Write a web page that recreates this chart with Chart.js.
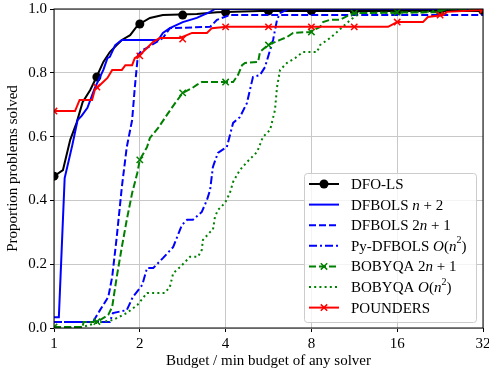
<!DOCTYPE html>
<html>
<head>
<meta charset="utf-8">
<script src="https://cdn.jsdelivr.net/npm/chart.js@4.4.0/dist/chart.umd.min.js"></script>
<style>
  html, body { margin: 0; padding: 0; background: #fff; }
  #wrap { width: 489px; height: 372px; position: relative; }
</style>
</head>
<body>
<div id="wrap"><canvas id="myChart"></canvas></div>
<script>
// budget ratio (x) vs proportion solved (y)
var dfoLs = [[1,.476],[1.075,.495],[1.14,.59],[1.2,.643],[1.26,.708],[1.34,.746],[1.41,.787],[1.49,.834],[1.57,.865],[1.66,.887],[1.73,.903],[1.85,.918],[1.97,.95],[2.17,.972],[2.41,.981],[3.17,.984],[3.73,.99],[5.28,.994],[32,.994]];
var dfbolsN2 = [[1,.034],[1.04,.034],[1.09,.47],[1.16,.574],[1.21,.652],[1.25,.665],[1.31,.69],[1.39,.752],[1.49,.809],[1.54,.846],[1.57,.85],[1.64,.887],[1.73,.903],[2.32,.903],[2.41,.925],[2.55,.94],[2.83,.959],[3.17,.972],[3.53,.991],[3.67,1],[32,1]];
var dfbols2N1 = [[1,.019],[1.37,.019],[1.45,.056],[1.55,.097],[1.6,.16],[1.66,.285],[1.73,.442],[1.8,.567],[1.88,.652],[1.92,.752],[1.97,.856],[2.04,.871],[2.12,.878],[2.41,.909],[2.55,.94],[3.53,.944],[3.73,.966],[4.14,.981],[32,.981]];
var pyDfbols = [[1,.019],[1.57,.019],[1.61,.047],[1.8,.056],[1.89,.097],[2.04,.135],[2.12,.188],[2.23,.188],[2.41,.219],[2.62,.254],[2.81,.323],[2.93,.339],[3.07,.339],[3.3,.364],[3.44,.401],[3.53,.433],[3.61,.505],[3.76,.549],[3.92,.56],[4.04,.567],[4.25,.643],[4.49,.661],[4.75,.705],[4.99,.787],[5.28,.793],[5.5,.818],[5.87,.903],[6.06,.966],[6.21,.987],[6.62,1],[32,1]];
var bobyqa2N1 = [[1,.003],[1.26,.003],[1.27,.019],[1.37,.019],[1.45,.025],[1.55,.041],[1.6,.066],[1.66,.16],[1.73,.254],[1.8,.339],[1.88,.423],[1.96,.486],[2,.527],[2.12,.567],[2.17,.596],[2.32,.627],[2.49,.668],[2.66,.705],[2.83,.737],[3.05,.752],[3.17,.762],[3.3,.771],[4.25,.771],[4.42,.793],[4.57,.824],[4.68,.831],[5.2,.834],[5.28,.865],[5.63,.887],[6.21,.903],[6.57,.912],[6.9,.925],[7.91,.928],[8.58,.944],[8.79,.959],[9.3,.966],[10.08,.966],[11.19,.987],[22,.99],[24,1],[32,1]];
var bobyqaN2 = [[1,0],[1.26,.003],[1.41,.016],[1.61,.025],[1.8,.047],[1.96,.072],[2.12,.11],[2.45,.11],[2.55,.129],[2.62,.172],[2.77,.191],[3.0,.223],[3.2,.223],[3.3,.245],[3.33,.276],[3.53,.301],[3.61,.307],[3.67,.348],[3.76,.37],[3.98,.392],[4.14,.423],[4.25,.458],[4.39,.48],[4.49,.495],[4.75,.52],[5.16,.552],[5.41,.599],[5.73,.621],[5.96,.683],[6.06,.755],[6.21,.809],[6.57,.831],[7.01,.846],[7.47,.865],[8.37,.865],[8.58,.887],[9.3,.909],[9.84,.928],[10.66,.956],[11.19,.972],[11.56,.987],[20,.99],[24,1],[32,1]];
var pounders = [[1,.68],[1.185,.68],[1.23,.715],[1.36,.715],[1.39,.746],[1.45,.762],[1.54,.784],[1.6,.809],[1.73,.809],[1.78,.824],[1.88,.824],[1.92,.846],[2,.856],[2.12,.878],[2.23,.897],[2.35,.909],[2.77,.909],[3.05,.925],[3.44,.925],[3.58,.94],[4.04,.944],[14.86,.944],[16,.959],[19.7,.959],[20.5,.975],[23.2,.981],[23.9,.991],[31.7,.997],[32,1]];

// markers every half doubling
var markX = [1, 1.414, 2, 2.828, 4, 5.657, 8, 11.31, 16, 22.63, 32];
var dfoLsMarks = [.476, .787, .953, .981, .99, .994, .994, .994, .994, .994, .994];
var bobyqa2N1Marks = [.003, .02, .527, .737, .771, .887, .928, .987, .99, .995, 1];
var poundersMarks = [.68, .755, .853, .906, .944, .944, .944, .944, .959, .981, .997];

var xTicks = [1, 2, 4, 8, 16, 32];

var FONT = 'Liberation Serif';
Chart.defaults.font.family = FONT;
Chart.defaults.font.size = 15;
Chart.defaults.color = '#000';

var pts = function (a) { return a.map(function (p) { return {x: p[0], y: p[1]}; }); };
var markPts = function (ys) { return markX.map(function (x, i) { return {x: x, y: ys[i]}; }); };

function line(data, color, dash) {
  return {
    data: pts(data), borderColor: color, backgroundColor: color, borderWidth: 2,
    borderDash: dash, pointRadius: 0, tension: 0, fill: false, clip: 0
  };
}
function marks(data, color, style, r) {
  return {
    data: markPts(data), showLine: false, pointStyle: style, pointRadius: r,
    pointBorderWidth: style == 'circle' ? 0 : 1.5,
    pointBackgroundColor: color, pointBorderColor: color, clip: 0
  };
}

// matplotlib plotting order, last one on top
var datasets = [
  line(dfoLs, '#000000', []),
  marks(dfoLsMarks, '#000000', 'circle', 4.5),
  line(dfbolsN2, '#0000ff', []),
  line(dfbols2N1, '#0000ff', [7, 3]),
  line(pyDfbols, '#0000ff', [8, 3, 2, 3]),
  line(bobyqa2N1, '#008000', [7, 3]),
  marks(bobyqa2N1Marks, '#008000', 'crossRot', 4.5),
  line(bobyqaN2, '#008000', [2, 3.2]),
  line(pounders, '#ff0000', []),
  marks(poundersMarks, '#ff0000', 'crossRot', 4.5)
];
datasets.forEach(function (d, i) { d.order = datasets.length - i; });

var legendItems = [
  {parts: [['DFO-LS']], color: '#000000', dash: [], mark: 'circle'},
  {parts: [['DFBOLS '], ['n', 'i'], [' + 2']], color: '#0000ff', dash: []},
  {parts: [['DFBOLS 2'], ['n', 'i'], [' + 1']], color: '#0000ff', dash: [7, 3]},
  {parts: [['Py-DFBOLS '], ['O', 'i'], ['('], ['n', 'i'], ['2', 's'], [')']], color: '#0000ff', dash: [8, 3, 2, 3]},
  {parts: [['BOBYQA 2'], ['n', 'i'], [' + 1']], color: '#008000', dash: [7, 3], mark: 'x'},
  {parts: [['BOBYQA '], ['O', 'i'], ['('], ['n', 'i'], ['2', 's'], [')']], color: '#008000', dash: [2, 3.2]},
  {parts: [['POUNDERS']], color: '#ff0000', dash: [], mark: 'x'}
];

function drawRich(ctx, parts, x, y) {
  parts.forEach(function (p) {
    var st = p[1] || '';
    if (st == 's') {
      ctx.font = '10px "' + FONT + '"';
      ctx.fillText(p[0], x, y - 6);
    } else {
      ctx.font = (st == 'i' ? 'italic ' : '') + '15px "' + FONT + '"';
      ctx.fillText(p[0], x, y);
    }
    x += ctx.measureText(p[0]).width;
  });
}

var frameAndLegend = {
  id: 'frameAndLegend',
  afterDatasetsDraw: function (chart) {
    var ctx = chart.ctx, a = chart.chartArea;
    ctx.save();
    ctx.strokeStyle = '#000';
    ctx.lineWidth = 1;
    ctx.strokeRect(a.left, a.top, a.right - a.left, a.bottom - a.top);

    // legend box, lower right inside the axes
    var bx = 304, by = 173, bw = 172, bh = 149, r = 3;
    ctx.beginPath();
    ctx.roundRect(bx + 0.5, by + 0.5, bw, bh, r);
    ctx.fillStyle = 'rgba(255,255,255,0.8)';
    ctx.fill();
    ctx.strokeStyle = '#cccccc';
    ctx.stroke();

    legendItems.forEach(function (it, i) {
      var y = 184 + i * 20.6;
      ctx.strokeStyle = it.color;
      ctx.lineWidth = 2;
      ctx.setLineDash(it.dash);
      ctx.beginPath();
      ctx.moveTo(309, y);
      ctx.lineTo(339, y);
      ctx.stroke();
      ctx.setLineDash([]);
      if (it.mark == 'circle') {
        ctx.fillStyle = it.color;
        ctx.beginPath();
        ctx.arc(324, y, 4.5, 0, Math.PI * 2);
        ctx.fill();
      } else if (it.mark == 'x') {
        ctx.lineWidth = 1.5;
        ctx.beginPath();
        ctx.moveTo(320.8, y - 3.2); ctx.lineTo(327.2, y + 3.2);
        ctx.moveTo(320.8, y + 3.2); ctx.lineTo(327.2, y - 3.2);
        ctx.stroke();
      }
      ctx.fillStyle = '#000';
      ctx.textBaseline = 'middle';
      drawRich(ctx, it.parts, 351, y + 1);
    });
    ctx.restore();
  }
};

new Chart(document.getElementById('myChart'), {
  type: 'line',
  data: {datasets: datasets},
  options: {
    responsive: true,
    maintainAspectRatio: false,
    animation: false,
    devicePixelRatio: 1,
    layout: {padding: 0},
    plugins: {legend: {display: false}, tooltip: {enabled: false}},
    scales: {
      x: {
        type: 'logarithmic',
        min: 1,
        max: 32,
        afterBuildTicks: function (s) { s.ticks = xTicks.map(function (v) { return {value: v}; }); },
        afterFit: function (s) { s.height = 44; s.paddingLeft = 0; s.paddingRight = 6; },
        grid: {color: '#c8c8c8', lineWidth: 1, tickColor: '#000', tickLength: 4, tickWidth: 1},
        border: {display: false},
        ticks: {autoSkip: false, maxRotation: 0, padding: 3, callback: function (v) { return String(v); }},
        title: {display: true, text: 'Budget / min budget of any solver', padding: {top: 0, bottom: 2}}
      },
      y: {
        min: 0,
        max: 1,
        afterFit: function (s) { s.width = 54; s.paddingTop = 9; s.paddingBottom = 0; },
        grid: {color: '#c8c8c8', lineWidth: 1, tickColor: '#000', tickLength: 4, tickWidth: 1},
        border: {display: false},
        ticks: {stepSize: 0.2, padding: 3, callback: function (v) { return v.toFixed(1); }},
        title: {display: true, text: 'Proportion problems solved', padding: {top: 4, bottom: 0}}
      }
    }
  },
  plugins: [frameAndLegend]
});
</script>
</body>
</html>
